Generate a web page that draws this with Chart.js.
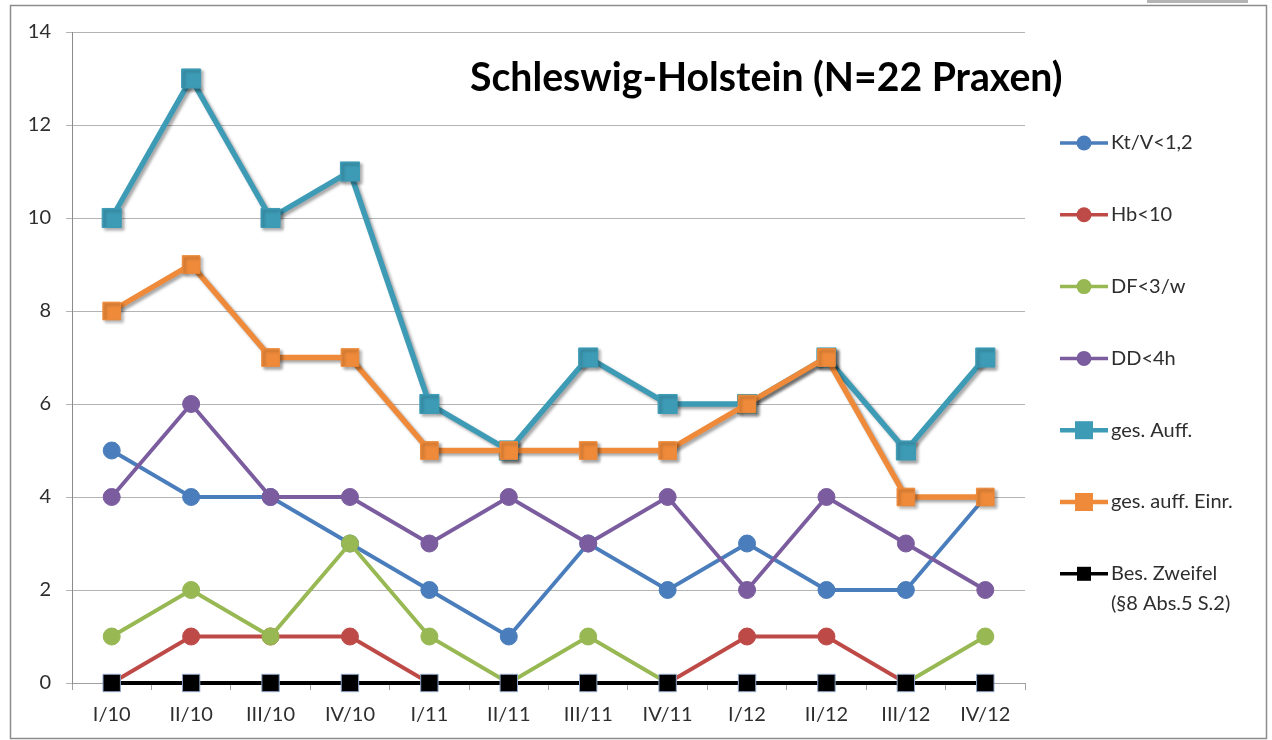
<!DOCTYPE html>
<html>
<head>
<meta charset="utf-8">
<script src="https://cdn.jsdelivr.net/npm/chart.js@4.4.1/dist/chart.umd.min.js"></script>
<style>
  html, body { margin: 0; padding: 0; background: #fff; }
  #wrap { position: relative; width: 1272px; height: 740px; }
</style>
</head>
<body>
<div id="wrap"><canvas id="chart" width="1272" height="740"></canvas></div>
<script>
const quarters = ['I/10', 'II/10', 'III/10', 'IV/10', 'I/11', 'II/11', 'III/11', 'IV/11', 'I/12', 'II/12', 'III/12', 'IV/12'];
const ktv      = [5, 4, 4, 3, 2, 1, 3, 2, 3, 2, 2, 4];
const hb       = [0, 1, 1, 1, 0, 0, 0, 0, 1, 1, 0, 0];
const df       = [1, 2, 1, 3, 1, 0, 1, 0, 0, 0, 0, 1];
const dd       = [4, 6, 4, 4, 3, 4, 3, 4, 2, 4, 3, 2];
const gesAuff  = [10, 13, 10, 11, 6, 5, 7, 6, 6, 7, 5, 7];
const gesEinr  = [8, 9, 7, 7, 5, 5, 5, 5, 6, 7, 4, 4];
const zweifel  = [0, 0, 0, 0, 0, 0, 0, 0, 0, 0, 0, 0];
const yTicks   = [0, 2, 4, 6, 8, 10, 12, 14];
const titleText = 'Schleswig-Holstein (N=22 Praxen)';

const FONT = 'Lato, "Open Sans", sans-serif';
const TEXT = '#2e2e2e';

const series = [
  { label: ['Kt/V<1,2'], data: ktv, color: '#4a7dbb', style: 'circle', r: 8.5, w: 3.8 },
  { label: ['Hb<10'], data: hb, color: '#be4a47', style: 'circle', r: 8.5, w: 3.8 },
  { label: ['DF<3/w'], data: df, color: '#97b852', style: 'circle', r: 8.5, w: 3.8 },
  { label: ['DD<4h'], data: dd, color: '#7b5d9f', style: 'circle', r: 8.5, w: 3.8 },
  { label: ['ges. Auff.'], data: gesAuff, color: '#3d9bb6', style: 'rect', r: 13.5, w: 5.5, shadow: true },
  { label: ['ges. auff. Einr.'], data: gesEinr, color: '#ee8a3a', style: 'rect', r: 12.5, w: 5.5, shadow: true },
  { label: ['Bes. Zweifel', '(§8 Abs.5 S.2)'], data: zweifel, color: '#000000', style: 'rect', r: 12.3, w: 4.2, border: '#8fa6c8' }
];

const datasets = series.map((s, i) => ({
  label: s.label.join(' '),
  data: s.data,
  borderColor: s.color,
  backgroundColor: s.color,
  borderWidth: s.w,
  pointStyle: s.style,
  pointRadius: s.r,
  pointBackgroundColor: s.color,
  pointBorderColor: s.border || s.color,
  pointBorderWidth: 1,
  tension: 0,
  clip: false,
  order: series.length - i,
  shadow: !!s.shadow
}));

// soft drop shadow like the office chart for the two thick series
const shadowPlugin = {
  id: 'shadow',
  beforeDatasetDraw(chart, args) {
    const ds = chart.data.datasets[args.index];
    if (!ds.shadow) return;
    const ctx = chart.ctx;
    ctx.save();
    ctx.shadowColor = 'rgba(0,0,0,0.35)';
    ctx.shadowOffsetX = 2.5;
    ctx.shadowOffsetY = 2.5;
    ctx.shadowBlur = 3;
  },
  afterDatasetDraw(chart, args) {
    if (chart.data.datasets[args.index].shadow) chart.ctx.restore();
  }
};

const framePlugin = {
  id: 'frame',
  beforeDraw(chart) {
    const ctx = chart.ctx;
    ctx.save();
    ctx.fillStyle = '#fff';
    ctx.fillRect(0, 0, chart.width, chart.height);
    ctx.strokeStyle = '#8c8c8c';
    ctx.lineWidth = 1.5;
    ctx.strokeRect(10.5, 5.5, 1256, 733);
    ctx.fillStyle = '#b4b4b4';
    ctx.fillRect(1147, 0, 101, 3);
    ctx.restore();
  }
};

const titleLegendPlugin = {
  id: 'titleLegend',
  afterDraw(chart) {
    const ctx = chart.ctx;
    ctx.save();
    // title inside the plot area
    let size = 34;
    ctx.font = 'bold ' + size + 'px ' + FONT;
    const w = ctx.measureText(titleText).width;
    size = size * 592 / w;
    ctx.font = 'bold ' + size.toFixed(1) + 'px ' + FONT;
    ctx.fillStyle = '#000';
    ctx.textAlign = 'left';
    ctx.textBaseline = 'middle';
    ctx.fillText(titleText, 470, 78);

    // legend on the right
    const top = 143, step = 71.8;
    ctx.font = '20px ' + FONT;
    series.forEach((s, i) => {
      const y = top + i * step;
      ctx.strokeStyle = s.color;
      ctx.lineWidth = s.w > 4.5 ? 4.5 : 3.5;
      ctx.beginPath();
      ctx.moveTo(1060, y);
      ctx.lineTo(1108, y);
      ctx.stroke();
      ctx.fillStyle = s.color;
      ctx.beginPath();
      if (s.style === 'circle') {
        ctx.arc(1084, y, 7.5, 0, Math.PI * 2);
        ctx.fill();
      } else {
        const h = s.border ? 7 : 9;
        ctx.fillRect(1084 - h, y - h, 2 * h, 2 * h);
      }
      ctx.fillStyle = TEXT;
      s.label.forEach((line, k) => ctx.fillText(line, 1111, y + k * 30));
    });
    ctx.restore();
  }
};

new Chart(document.getElementById('chart'), {
  type: 'line',
  data: { labels: quarters, datasets },
  plugins: [framePlugin, shadowPlugin, titleLegendPlugin],
  options: {
    responsive: false,
    animation: false,
    layout: { padding: { left: 10, right: 247, top: 32, bottom: 10 } },
    plugins: {
      legend: { display: false },
      title: { display: false },
      tooltip: { enabled: false }
    },
    scales: {
      x: {
        offset: true,
        grid: { offset: true, drawOnChartArea: false, drawTicks: true, tickLength: 7, color: '#a0a0a0' },
        border: { color: '#a0a0a0' },
        ticks: { color: TEXT, font: { family: FONT, size: 20 }, padding: 13, maxRotation: 0 },
        afterFit: s => { s.height = 47; }
      },
      y: {
        min: 0,
        max: 14,
        afterBuildTicks: s => { s.ticks = yTicks.map(v => ({ value: v })); },
        grid: { color: '#b4b4b4', tickLength: 6, lineWidth: 1 },
        border: { color: '#8c8c8c' },
        ticks: { color: TEXT, font: { family: FONT, size: 20 }, padding: 15 },
        afterFit: s => { s.width = 62; }
      }
    }
  }
});
</script>
</body>
</html>
